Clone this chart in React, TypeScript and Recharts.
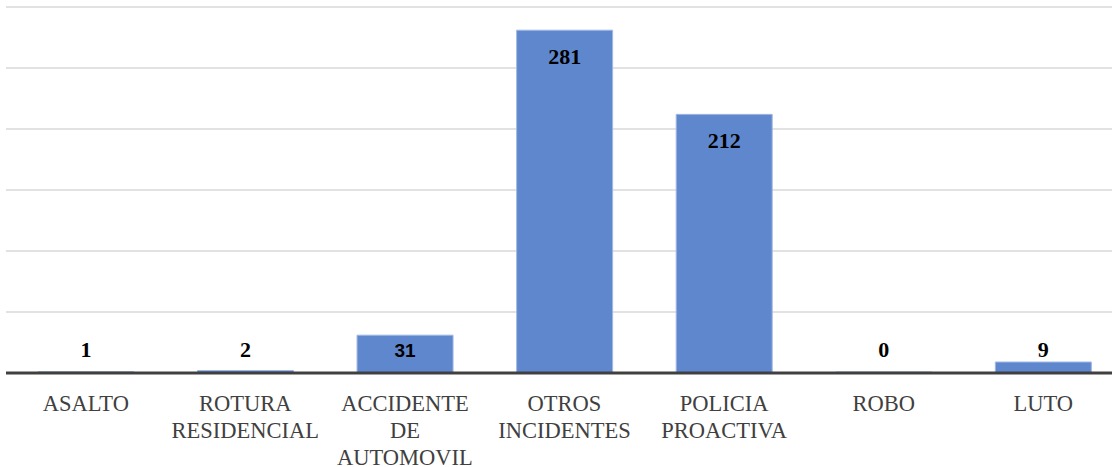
import { BarChart, Bar, XAxis, YAxis, CartesianGrid, LabelList } from 'recharts';

const categories = ['ASALTO', 'ROTURA RESIDENCIAL', 'ACCIDENTE DE AUTOMOVIL', 'OTROS INCIDENTES', 'POLICIA PROACTIVA', 'ROBO', 'LUTO'];
const counts = [1, 2, 31, 281, 212, 0, 9];
const yTicks = [0, 50, 100, 150, 200, 250, 300];

const data = categories.map((name, i) => ({ name, value: counts[i] }));

const serif = '"Liberation Serif", "Times New Roman", serif';
const sans = '"Liberation Sans", Arial, sans-serif';

function CategoryTick(props: any) {
  const { x, y, payload } = props;
  const words = String(payload.value).split(' ');
  return (
    <text x={x} y={y} textAnchor="middle" fill="#404040" style={{ fontFamily: serif, fontSize: 22.5 }}>
      {words.map((w, i) => (
        <tspan key={i} x={x} dy={i === 0 ? 30 : 27}>{w}</tspan>
      ))}
    </text>
  );
}

function ValueLabel(props: any) {
  const { x, y, width, height, value, index } = props;
  const base = y + height;
  const cy = Math.min(y + 26, base - 23.5);
  // the "31" label came out in a sans face in the original
  const isSans = index === 2;
  return (
    <text
      x={x + width / 2}
      y={cy + 7.5}
      textAnchor="middle"
      fill="#000"
      style={{ fontFamily: isSans ? sans : serif, fontSize: isSans ? 19 : 22, fontWeight: 'bold' }}
    >
      {value}
    </text>
  );
}

export default function App() {
  return (
    <div style={{ position: 'absolute', left: 0, top: 0, width: 1112, height: 467, overflow: 'hidden', background: '#fff' }}>
      <BarChart width={1130} height={467} data={data} margin={{ top: 7, right: 7, left: 6, bottom: 0 }} barCategoryGap="20%">
        <CartesianGrid vertical={false} stroke="#d9d9d9" strokeWidth={1.5} />
        <YAxis hide domain={[0, 300]} ticks={yTicks} />
        <XAxis
          dataKey="name"
          height={94}
          interval={0}
          axisLine={{ stroke: '#404040', strokeWidth: 3 }}
          tickLine={false}
          tick={<CategoryTick />}
        />
        {/* minPointSize keeps the zero bar (and its label) in the list */}
        <Bar dataKey="value" fill="#5f87cd" stroke="#9fb7e4" strokeWidth={1} minPointSize={1} isAnimationActive={false}>
          <LabelList dataKey="value" content={<ValueLabel />} />
        </Bar>
      </BarChart>
    </div>
  );
}
